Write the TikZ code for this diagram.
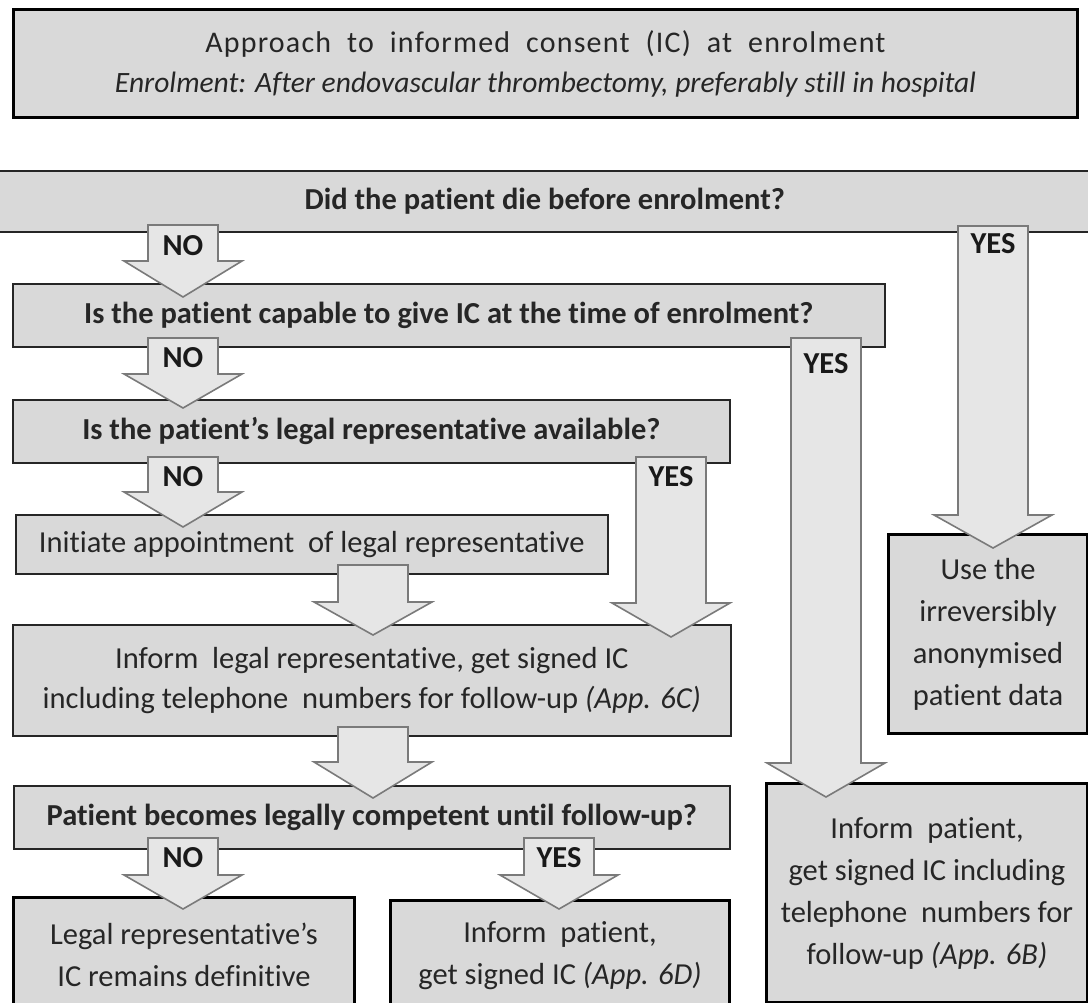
\documentclass[tikz,border=0pt]{standalone}
\usepackage{fontspec}
\setmainfont{Carlito}[Ligatures={NoCommon}]
\definecolor{boxgray}{HTML}{D9D9D9}
\definecolor{arrgray}{HTML}{E6E6E6}
\definecolor{arredge}{HTML}{7A7A7A}
\newcommand{\bx}[7]{%
  \node[#6, anchor=north west, minimum width={#4-#2}, minimum height={#5-#3}] (#1) at (#2,#3) {#7};}
\newcommand{\barrow}[5]{%
  \coordinate (#1) at (#2,#3);
  \draw[blockarr] (#1) ++(-35,0) -- ++(70,0) |- (#2+35,#4) -- (#2+59,#4) -- (#2,#5) -- (#2-59,#4) -- (#2-35,#4) -- cycle;}
\begin{document}
\begin{tikzpicture}[x=1pt,y=-1pt,
  txt/.style={font=\fontsize{30.5}{42}\selectfont, align=center, inner sep=0pt, text=black!85},
  qbox/.style={txt, draw=black!85, line width=1.6pt, fill=boxgray, font=\fontsize{30.5}{42}\selectfont\bfseries},
  sbox/.style={txt, draw=black!85, line width=1.6pt, fill=boxgray},
  ebox/.style={txt, draw=black, line width=3pt, fill=boxgray},
  blockarr/.style={draw=arredge, line width=1.6pt, fill=arrgray, line join=miter},
  albl/.style={font=\fontsize{30.5}{32}\selectfont\bfseries, inner sep=0pt, text=black!90}]
\useasboundingbox (0,0) rectangle (1088,1003);
\clip (0,0) rectangle (1088,1003);
% header
\bx{head}{12}{8}{1076}{116}{ebox, font=\fontsize{30}{40}\selectfont}{{\addfontfeatures{LetterSpace=4}Approach\ \ to\ \ informed\ \ consent\ \ (IC)\ \ at\ \ enrolment}\\\fontsize{29.5}{40}\selectfont\itshape Enrolment: After endovascular thrombectomy, preferably still in hospital}
% question boxes
\bx{q1}{-2}{170}{1090}{231}{qbox}{Did the patient die before enrolment?}
\bx{q2}{12}{283}{884}{346}{qbox}{Is the patient capable to give IC at the time of enrolment?}
\bx{q3}{12}{399}{729}{462}{qbox}{Is the patient’s legal representative available?}
\bx{init}{15}{514}{607}{573}{sbox}{Initiate appointment\ \ of legal representative}
\bx{inflr}{12}{624}{730}{735}{sbox, font=\fontsize{30.5}{40}\selectfont}{Inform\ \ legal representative, get signed IC\\including telephone\ \ numbers for follow-up \textit{(App. 6C)}}
\bx{q4}{13}{785}{729}{848}{qbox}{Patient becomes legally competent until follow-up?}
% end boxes
\bx{lrdef}{12}{896}{353}{1010}{ebox}{Legal representative’s\\IC remains definitive}
\bx{infp}{389}{899}{728}{1010}{ebox}{Inform\ \ patient,\\get signed IC \textit{(App. 6D)}}
\bx{infpt}{765}{782}{1086}{1001}{ebox}{Inform\ \ patient,\\get signed IC including\\telephone\ \ numbers for\\follow-up \textit{(App. 6B)}}
\bx{anon}{887}{533}{1086}{732}{ebox}{Use the\\irreversibly\\anonymised\\patient data}
% block arrows
\barrow{a1}{183}{225}{261}{297}
\barrow{a2}{993}{226}{515}{548}
\barrow{a3}{183}{338}{374}{408}
\barrow{a4}{826}{338}{763}{797}
\barrow{a5}{183}{457}{492}{527}
\barrow{a6}{671}{457}{603}{637}
\barrow{a7}{373}{565}{602}{635}
\barrow{a8}{373}{727}{762}{798}
\barrow{a9}{183}{838}{875}{909}
\barrow{a10}{559}{838}{875}{909}
% arrow labels
\node[albl] (l1) at (183,246) {NO};
\node[albl] (l2) at (993,244) {YES};
\node[albl] (l3) at (183,358) {NO};
\node[albl] (l4) at (826,364) {YES};
\node[albl] (l5) at (183,477) {NO};
\node[albl] (l6) at (671,477) {YES};
\node[albl] (l9) at (183,858) {NO};
\node[albl] (l10) at (559,858) {YES};
\end{tikzpicture}
\end{document}
